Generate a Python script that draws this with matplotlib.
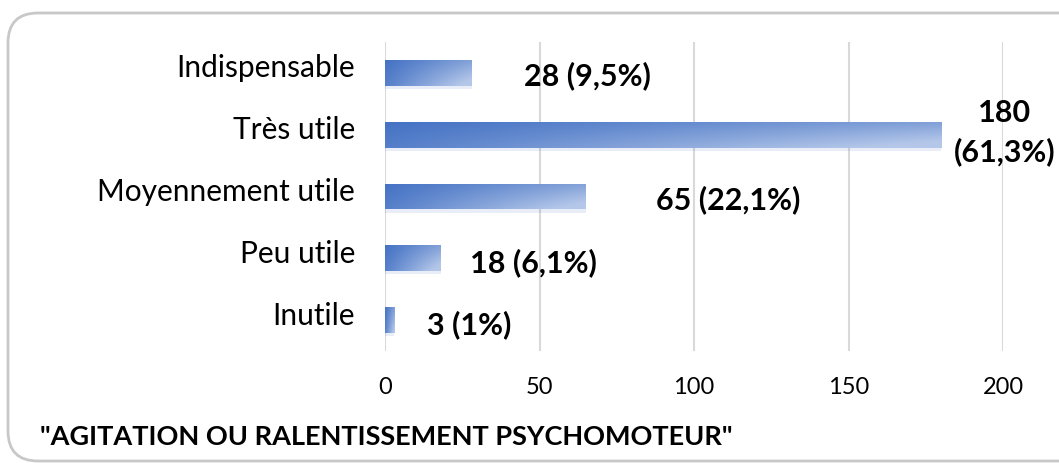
import matplotlib
matplotlib.use("Agg")
import matplotlib.pyplot as plt
import matplotlib.transforms as mtransforms
from matplotlib.patches import FancyBboxPatch
import numpy as np

categories = ["Indispensable", "Très utile", "Moyennement utile", "Peu utile", "Inutile"]
values = [28, 180, 65, 18, 3]
labels = ["28 (9,5%)", "180\n(61,3%)", "65 (22,1%)", "18 (6,1%)", "3 (1%)"]
title = '"AGITATION OU RALENTISSEMENT PSYCHOMOTEUR"'
xticks = [0, 50, 100, 150, 200]

plt.rcParams['font.family'] = ['Lato', 'DejaVu Sans']

fig = plt.figure(figsize=(10.59, 4.64), dpi=100)
W, H = 1059, 464

# rounded frame (inches)
frame = FancyBboxPatch((0.08, 0.02), 11.0, 4.48,
                       boxstyle="round,pad=0,rounding_size=0.3",
                       transform=fig.dpi_scale_trans, facecolor="none",
                       edgecolor="#C8C8C8", linewidth=2.0, zorder=-5)
fig.patches.append(frame)

ax = fig.add_axes([385 / W, 1 - 352 / H, 618 / W, 309 / H])
ax.set_facecolor("none")
y = np.arange(len(categories))

bh = 0.42
bars = ax.barh(y, values, height=bh, color="#4472C4", zorder=3, linewidth=0)

# gradient overlay
nx, ny = 256, 32
gx = np.linspace(0, 1, nx)[None, :]
gy = np.linspace(0, 1, ny)[:, None]
c0 = np.array([0x44, 0x72, 0xC4]) / 255
c1 = np.array([0xB4, 0xC7, 0xE9]) / 255
t = np.clip(0.55 * gx + 0.45 * gy * gx + 0.15 * gy, 0, 1)
img = c0[None, None, :] * (1 - t[..., None]) + c1[None, None, :] * t[..., None]
for b, v, yi in zip(bars, values, y):
    ax.barh(yi + 0.05, v, height=bh, color="#4472C4", alpha=0.12, zorder=2, linewidth=0)
    im = ax.imshow(img, extent=[0, v, yi + bh / 2, yi - bh / 2], aspect="auto",
                   zorder=4, interpolation="bilinear")
    im.set_clip_path(b)
ax.set_xlim(0, 200)
ax.set_ylim(len(categories) - 0.5, -0.5)

# value labels
offsets = [(52, -2), (0, 0), (70, -2), (29, -3), (33, -4)]
for v, yi, lab, (dx, dy) in zip(values, y, labels, offsets):
    if "\n" in lab:
        ax.annotate(lab, xy=(200, yi), xytext=(2, 3), textcoords="offset pixels",
                    ha="center", va="center", fontsize=22, fontweight="bold",
                    linespacing=1.45, annotation_clip=False)
    else:
        ax.annotate(lab, xy=(v, yi), xytext=(dx, dy), textcoords="offset pixels",
                    ha="left", va="center", fontsize=22, fontweight="bold",
                    annotation_clip=False)

ax.set_yticks(y)
ax.set_yticklabels(categories, fontsize=21.5)
ax.set_xticks(xticks)
ax.set_xticklabels([str(x) for x in xticks], fontsize=17)
ax.tick_params(axis="y", length=0, pad=21.6)
ax.tick_params(axis="x", length=0, pad=18)
off = mtransforms.ScaledTranslation(0, 8 / 100, fig.dpi_scale_trans)
for lbl in ax.get_yticklabels():
    lbl.set_transform(lbl.get_transform() + off)

ax.grid(axis="x", color="#D9D9D9", linewidth=1.5, zorder=0)
ax.set_axisbelow(True)
for s in ax.spines.values():
    s.set_visible(False)

fig.text(40 / W, 1 - 437 / H, title, fontsize=19.5, fontweight="bold", va="center", ha="left")

fig.savefig("out.png", dpi=100)
